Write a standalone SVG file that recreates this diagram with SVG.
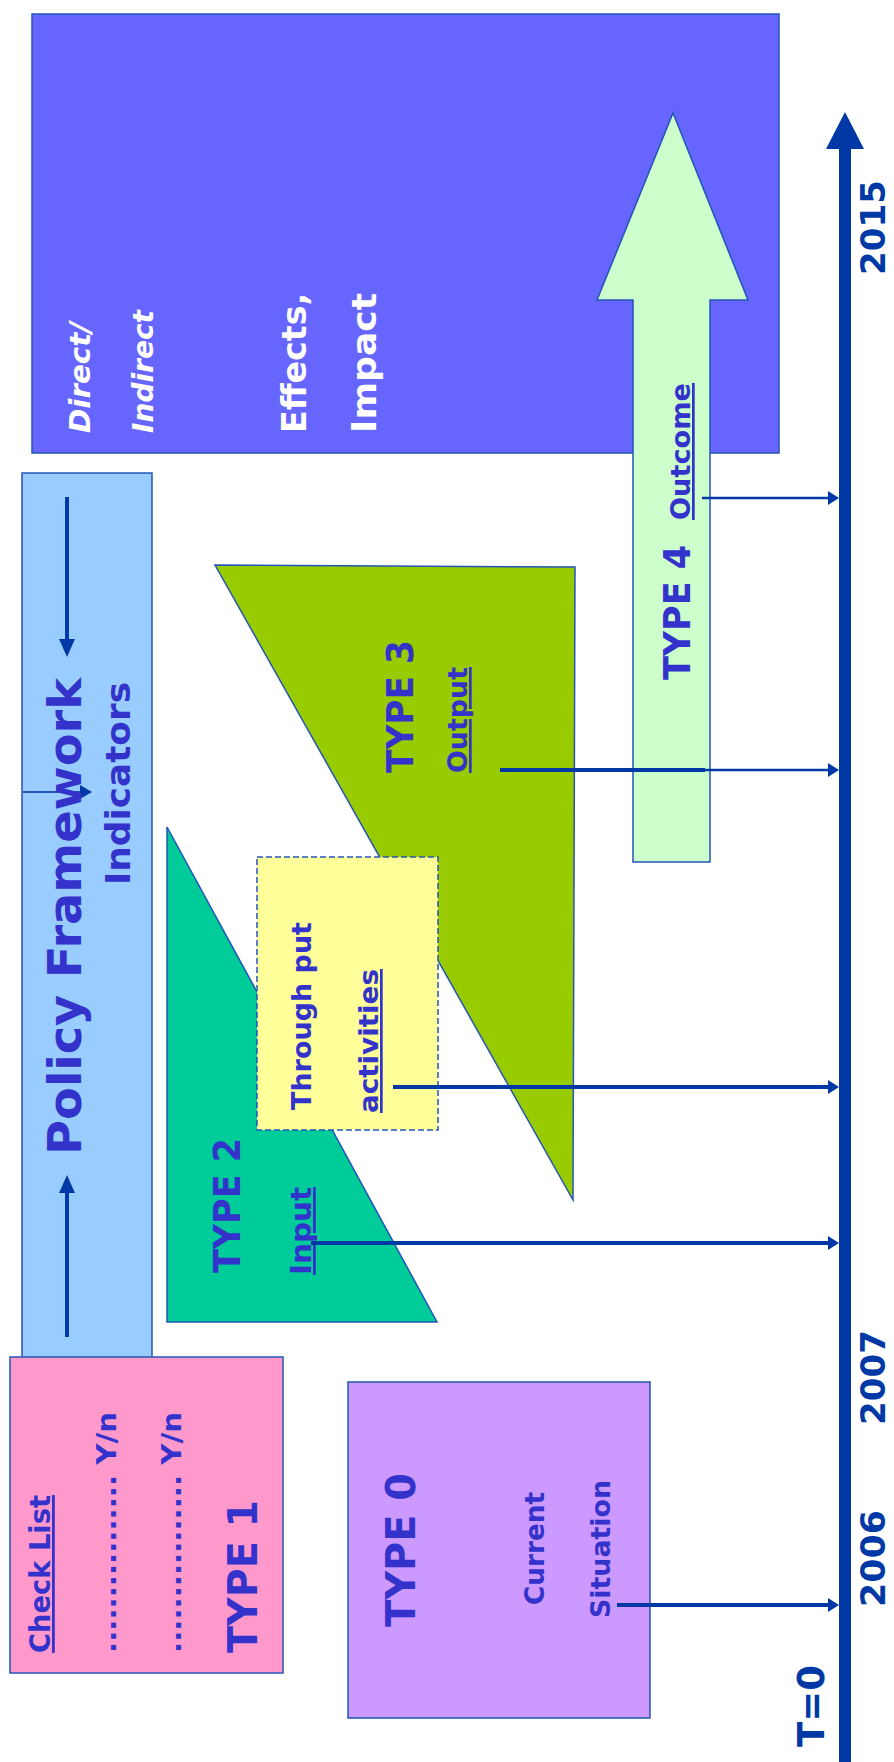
<svg xmlns="http://www.w3.org/2000/svg" width="894" height="1762" viewBox="0 0 894 1762">
<style>
.box{stroke:#2255B5;stroke-width:1.5}
.t{font-family:"DejaVu Sans",Verdana,sans-serif;font-weight:bold;fill:#3333CC}
.w{fill:#FFFFFF}
.i{font-style:italic}
.u{text-decoration:underline}
.yr{fill:#0039A6}
.con{stroke:#0039A6;fill:none}
.ah{fill:#0039A6}
</style>
<rect width="894" height="1762" fill="#FFFFFF"/>

<g id="impact">
<rect class="box" x="32" y="14" width="747" height="439" fill="#6666FF"/>
<text class="t w i" font-size="28" transform="translate(90,433) rotate(-90)" textLength="111" lengthAdjust="spacingAndGlyphs">Direct/</text>
<text class="t w i" font-size="28" transform="translate(153,433) rotate(-90)" textLength="123" lengthAdjust="spacingAndGlyphs">Indirect</text>
<text class="t w" font-size="34" transform="translate(306,433) rotate(-90)" textLength="140" lengthAdjust="spacingAndGlyphs">Effects,</text>
<text class="t w" font-size="34" transform="translate(376,433) rotate(-90)" textLength="140" lengthAdjust="spacingAndGlyphs">Impact</text>
</g>

<g id="type4">
<polygon class="box" points="673,113 748,300 710,300 710,862 633,862 633,300 597,300" fill="#CCFFCC"/>
<text class="t" font-size="37" transform="translate(690,680) rotate(-90)" textLength="135" lengthAdjust="spacingAndGlyphs">TYPE 4</text>
<text class="t u" font-size="27" transform="translate(690,520) rotate(-90)" textLength="137" lengthAdjust="spacingAndGlyphs">Outcome</text>
</g>

<g id="policy">
<rect class="box" x="22" y="473" width="130" height="890" fill="#99CCFF"/>
<line x1="67" y1="497" x2="67" y2="642" stroke="#0039A6" stroke-width="4"/>
<polygon class="ah" points="59,639 75,639 67,657"/>
<line x1="67" y1="1337" x2="67" y2="1190" stroke="#0039A6" stroke-width="4"/>
<polygon class="ah" points="59,1193 75,1193 67,1175"/>
<line x1="23" y1="792" x2="84" y2="792" stroke="#2255B5" stroke-width="2"/>
<polygon class="ah" points="80,785 80,799 92,792"/>
<text class="t" font-size="46" transform="translate(81,1155) rotate(-90)" textLength="477" lengthAdjust="spacingAndGlyphs">Policy Framework</text>
<text class="t" font-size="34" transform="translate(130,885) rotate(-90)" textLength="203" lengthAdjust="spacingAndGlyphs">Indicators</text>
</g>

<g id="type1">
<rect class="box" x="10" y="1357" width="273" height="316" fill="#FF99CC"/>
<text class="t u" font-size="28" transform="translate(50,1653) rotate(-90)" textLength="158" lengthAdjust="spacingAndGlyphs">Check List</text>
<text class="t" font-size="27" transform="translate(116,1653) rotate(-90)" textLength="241" lengthAdjust="spacingAndGlyphs">................ Y/n</text>
<text class="t" font-size="27" transform="translate(181,1653) rotate(-90)" textLength="241" lengthAdjust="spacingAndGlyphs">................ Y/n</text>
<text class="t" font-size="40" transform="translate(257,1653) rotate(-90)" textLength="153" lengthAdjust="spacingAndGlyphs">TYPE 1</text>
</g>

<g id="type0">
<rect class="box" x="348" y="1382" width="302" height="336" fill="#CC99FF"/>
<text class="t" font-size="40" transform="translate(415,1627) rotate(-90)" textLength="154" lengthAdjust="spacingAndGlyphs">TYPE 0</text>
<text class="t" font-size="27" transform="translate(544,1605) rotate(-90)" textLength="113" lengthAdjust="spacingAndGlyphs">Current</text>
<text class="t" font-size="27" transform="translate(610,1618) rotate(-90)" textLength="138" lengthAdjust="spacingAndGlyphs">Situation</text>
</g>

<g id="type2">
<polygon class="box" points="167,827 437,1322 167,1322" fill="#00CC99"/>
<text class="t" font-size="37" transform="translate(240,1273) rotate(-90)" textLength="135" lengthAdjust="spacingAndGlyphs">TYPE 2</text>
<text class="t u" font-size="28" transform="translate(311,1275) rotate(-90)" textLength="88" lengthAdjust="spacingAndGlyphs">Input</text>
</g>

<g id="type3">
<polygon class="box" points="215,565 575,567 573,1200" fill="#99CC00"/>
<text class="t" font-size="37" transform="translate(413,773) rotate(-90)" textLength="133" lengthAdjust="spacingAndGlyphs">TYPE 3</text>
<text class="t u" font-size="27" transform="translate(467,773) rotate(-90)" textLength="106" lengthAdjust="spacingAndGlyphs">Output</text>
</g>

<g id="throughput">
<rect class="box" x="257" y="857" width="181" height="273" fill="#FFFF99" stroke-dasharray="6,3"/>
<text class="t" font-size="27" transform="translate(311,1110) rotate(-90)" textLength="188" lengthAdjust="spacingAndGlyphs">Through put</text>
<text class="t u" font-size="27" transform="translate(378,1113) rotate(-90)" textLength="144" lengthAdjust="spacingAndGlyphs">activities</text>
</g>

<g id="timeline">
<rect x="839" y="146" width="12" height="1616" fill="#0039A6"/>
<polygon class="ah" points="845,112 826,149 864,149"/>
<text class="t yr" font-size="33" transform="translate(885,275) rotate(-90)" textLength="95" lengthAdjust="spacingAndGlyphs">2015</text>
<text class="t yr" font-size="33" transform="translate(885,1425) rotate(-90)" textLength="95" lengthAdjust="spacingAndGlyphs">2007</text>
<text class="t yr" font-size="33" transform="translate(885,1607) rotate(-90)" textLength="97" lengthAdjust="spacingAndGlyphs">2006</text>
<text class="t yr" font-size="38" transform="translate(824,1747) rotate(-90)" textLength="82" lengthAdjust="spacingAndGlyphs">T=0</text>
</g>

<g id="connectors">
<line class="con" x1="702" y1="498" x2="830" y2="498" stroke-width="2.5"/>
<polygon class="ah" points="828,491 828,505 839,498"/>
<line class="con" x1="500" y1="770" x2="705" y2="770" stroke-width="4"/>
<line class="con" x1="705" y1="770" x2="830" y2="770" stroke-width="2.5"/>
<polygon class="ah" points="828,763 828,777 839,770"/>
<line class="con" x1="393" y1="1087" x2="830" y2="1087" stroke-width="4"/>
<polygon class="ah" points="828,1080 828,1094 839,1087"/>
<line class="con" x1="311" y1="1243" x2="830" y2="1243" stroke-width="4"/>
<polygon class="ah" points="828,1236 828,1250 839,1243"/>
<line class="con" x1="617" y1="1605" x2="830" y2="1605" stroke-width="4"/>
<polygon class="ah" points="828,1598 828,1612 839,1605"/>
</g>
</svg>
